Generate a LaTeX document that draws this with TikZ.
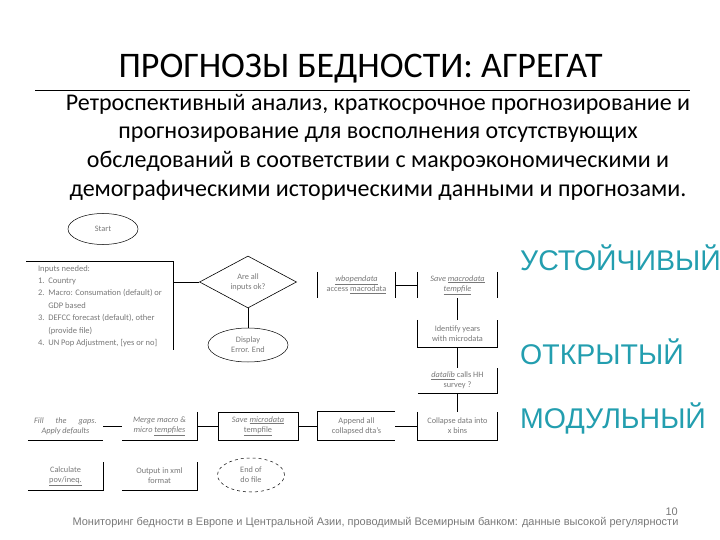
\documentclass[tikz,border=0pt]{standalone}
\usepackage{fontspec}
\setmainfont{Carlito}
\newfontfamily\arialf{Liberation Sans}
\usetikzlibrary{shapes.geometric}
\definecolor{teal1}{RGB}{35,158,175}
\definecolor{fgray}{RGB}{120,120,120}
\tikzset{
  fc/.style={font=\fontsize{8.3}{10}\selectfont, text=fgray, align=center, inner sep=0pt},
  fbox/.style={fc, rectangle, minimum width=77pt, minimum height=27pt},
  fell/.style={fc, ellipse, draw=black, line width=0.5pt},
  conn/.style={draw=black, line width=0.8pt},
  side/.style={draw=black, line width=0.8pt},
  bigword/.style={font=\arialf\fontsize{28.5}{32}\selectfont, text=teal1, anchor=west, inner sep=0pt},
}
\begin{document}
\begin{tikzpicture}[x=1pt,y=-1pt]
\useasboundingbox (0,0) rectangle (720,540);
% title
\node[font=\fontsize{36}{40}\selectfont, inner sep=0pt] (title) at (360.5,69) {ПРОГНОЗЫ БЕДНОСТИ: АГРЕГАТ};
\coordinate (hl1) at (35,90);
\coordinate (hl2) at (690,90);
\draw[line width=0.7pt] (hl1) -- (hl2);
\node[font=\fontsize{24}{28.7}\selectfont, align=center, inner sep=0pt] (sub) at (378,147)
 {Ретроспективный анализ, краткосрочное прогнозирование и\\
  прогнозирование для восполнения отсутствующих\\
  обследований в соответствии с макроэкономическими и\\
  демографическими историческими данными и прогнозами.};
% flowchart
\node[fell, minimum width=70pt, minimum height=31pt] (start) at (103,229) {Start};
\node[fbox, font=\fontsize{8.5}{12.4}\selectfont, minimum width=147pt, minimum height=88pt, align=left] (inp) at (100,306)
 {Inputs needed:\\
  1.\ \ Country\\
  2.\ \ Macro: Consumation (default) or\\
  \phantom{2.\ \ }GDP based\\
  3.\ \ DEFCC forecast (default), other\\
  \phantom{3.\ \ }(provide file)\\
  4.\ \ UN Pop Adjustment, [yes or no]};
\draw[side] (inp.north west) -- (inp.north east) -- (inp.south east);
\node[fc, diamond, draw=black, line width=0.6pt, minimum width=97pt, minimum height=48pt] (dia) at (248,282) {Are all\\inputs ok?};
\node[fell, minimum width=80pt, minimum height=34pt] (err) at (248,345) {Display\\Error. End};
\node[fbox, minimum width=77pt, minimum height=26pt] (wb) at (356.5,285) {\underline{\textit{wbopendata}}\\access \underline{macrodata}};
\draw[side] (wb.north west) -- (wb.south west) (wb.north east) -- (wb.south east);
\node[fbox, minimum width=79pt, minimum height=26pt] (smac) at (457.5,285) {\textit{Save \underline{macrodata}}\\\textit{\underline{tempfile}}};
\draw[side] (smac.north west) -- (smac.south west) (smac.north east) -- (smac.south east);
\node[fbox, minimum width=79pt, minimum height=27pt] (idy) at (457.5,333.5) {Identify years\\with microdata};
\draw[side] (idy.north west) -- (idy.south west) -- (idy.south east) -- (idy.north east);
\node[fbox, minimum width=79pt, minimum height=25pt] (dlib) at (457.5,380.5) {\underline{\textit{datalib}} calls HH\\survey ?};
\draw[side] (dlib.south west) -- (dlib.south east) -- (dlib.north east);
\node[fbox, minimum width=79pt, minimum height=28pt] (coll) at (457.5,426) {Collapse data into\\x bins};
\draw[side] (coll.north west) -- (coll.south west) -- (coll.south east) -- (coll.north east);
\node[fbox, minimum width=77pt, minimum height=28pt] (app) at (356.5,426) {Append all\\collapsed dta's};
\draw[side] (app.north east) -- (app.north west) -- (app.south west) -- (app.south east);
\node[fbox, draw=black, line width=0.8pt, minimum width=80pt, minimum height=28pt] (smic) at (258,426) {\textit{Save \underline{microdata}}\\\underline{tempfile}};
\node[fbox, minimum width=75pt, minimum height=28pt] (merge) at (159.5,426) {\textit{Merge macro \&}\\\textit{micro \underline{tempfiles}}};
\draw[side] (merge.north east) -- (merge.south east) -- (merge.south west);
\node[fbox, minimum width=75pt, minimum height=29pt] (fill) at (65.5,426) {\textit{Fill\hspace{12pt}the\hspace{12pt}gaps.}\\\textit{Apply defaults}};
\draw[side] (fill.south west) -- (fill.south east);
\node[fbox, minimum width=75pt, minimum height=28pt] (calc) at (65.5,476) {Calculate\\\underline{pov/ineq.}};
\draw[side] (calc.south west) -- (calc.south east) -- (calc.north east);
\node[fbox, minimum width=75pt, minimum height=28pt] (outx) at (159.5,476) {Output in xml\\format};
\draw[side] (outx.south west) -- (outx.south east) -- (outx.north east);
\node[fell, dashed, minimum width=67pt, minimum height=34pt] (endf) at (251,475) {End of\\do file};
% connectors
\draw[conn] (dia.west) -- (dia.west -| inp.east);
\draw[conn] (dia.south) -- (err.north);
\draw[conn] (wb.east) -- (smac.west);
\draw[conn] (smac.south) -- (idy.north);
\draw[conn] (idy.south) -- (dlib.north);
\draw[conn] (dlib.south) -- (coll.north);
\draw[conn] (coll.west) -- (app.east);
\draw[conn] (app.west) -- (smic.east);
\draw[conn] (smic.west) -- (merge.east);
\draw[conn] (merge.west) -- (fill.east);
% right words
\node[bigword] (w1) at (520,258) {УСТОЙЧИВЫЙ};
\node[bigword] (w2) at (520,352) {ОТКРЫТЫЙ};
\node[bigword] (w3) at (520,418) {МОДУЛЬНЫЙ};
% footer
\node[font=\arialf\fontsize{11}{13}\selectfont, text=fgray, inner sep=0pt] (foot) at (375.5,523) {Мониторинг бедности в Европе и Центральной Азии, проводимый Всемирным банком: данные высокой регулярности};
\node[font=\arialf\fontsize{11}{13}\selectfont, text=fgray, inner sep=0pt, anchor=east] (pg) at (678,512) {10};
\end{tikzpicture}
\end{document}
